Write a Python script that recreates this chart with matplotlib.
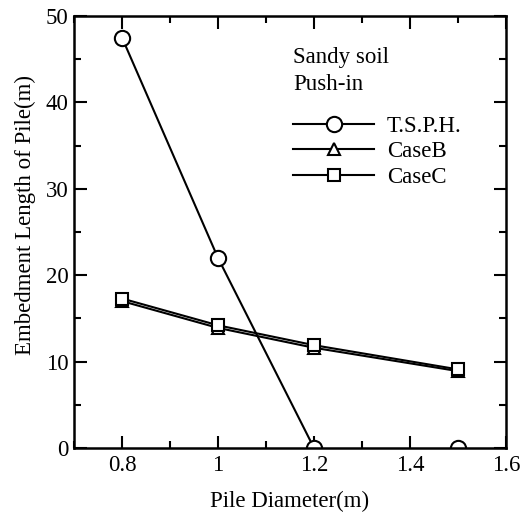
import matplotlib
matplotlib.use("Agg")
import matplotlib.pyplot as plt
from matplotlib.ticker import MultipleLocator

diam_tsph = [0.8, 1.0, 1.2]
len_tsph = [47.5, 22.0, 0.0]
diam_tsph_extra = [1.5]
len_tsph_extra = [0.0]
diam = [0.8, 1.0, 1.2, 1.5]
len_b = [17.0, 13.9, 11.6, 8.9]
len_c = [17.3, 14.2, 11.9, 9.1]

FS = 16.5
plt.rcParams['font.family'] = ['Liberation Serif', 'DejaVu Serif']
fig = plt.figure(figsize=(5.26, 5.13), dpi=100)
ax = fig.add_axes([74/526, 1-448/513, (506-74)/526, (448-16)/513])

lw = 1.5
ax.plot(diam_tsph, len_tsph, '-o', color='black', lw=lw, ms=11, mfc='white', mew=1.5, label='T.S.P.H.')
ax.plot(diam_tsph_extra, len_tsph_extra, 'o', color='black', ms=11, mfc='white', mew=1.5)
ax.plot(diam, len_b, '-^', color='black', lw=lw, ms=8, mfc='white', mew=1.5, label='CaseB')
ax.plot(diam, len_c, '-s', color='black', lw=lw, ms=8.5, mfc='white', mew=1.5, label='CaseC')

ax.set_xlim(0.7, 1.6)
ax.set_ylim(0, 50)
ax.xaxis.set_minor_locator(MultipleLocator(0.1))
ax.yaxis.set_major_locator(MultipleLocator(10))
ax.yaxis.set_minor_locator(MultipleLocator(5))
ax.set_xticks([0.8, 1.0, 1.2, 1.4, 1.6])
ax.set_xticklabels(['0.8', '1', '1.2', '1.4', '1.6'])
ax.tick_params(which='both', direction='in', top=True, right=True, labelsize=FS, width=1.5)
ax.tick_params(axis='x', pad=5)
ax.tick_params(axis='y', pad=4)
ax.tick_params(which='major', length=9)
ax.tick_params(which='minor', length=5)
for s in ax.spines.values():
    s.set_linewidth(1.8)

ax.set_xlabel('Pile Diameter(m)', fontsize=FS, labelpad=11)
ax.set_ylabel('Embedment Length of Pile(m)', fontsize=FS, labelpad=7, y=0.539)

ax.text(0.507, 0.891, 'Sandy soil', transform=ax.transAxes, fontsize=FS, va='baseline')
ax.text(0.507, 0.829, 'Push-in', transform=ax.transAxes, fontsize=FS, va='baseline')
ax.legend(loc='upper left', bbox_to_anchor=(0.507, 0.769), frameon=False, fontsize=FS,
          handlelength=3.55, handletextpad=0.55, labelspacing=0.2, borderpad=0, borderaxespad=0)

fig.savefig('out.png', dpi=100)
